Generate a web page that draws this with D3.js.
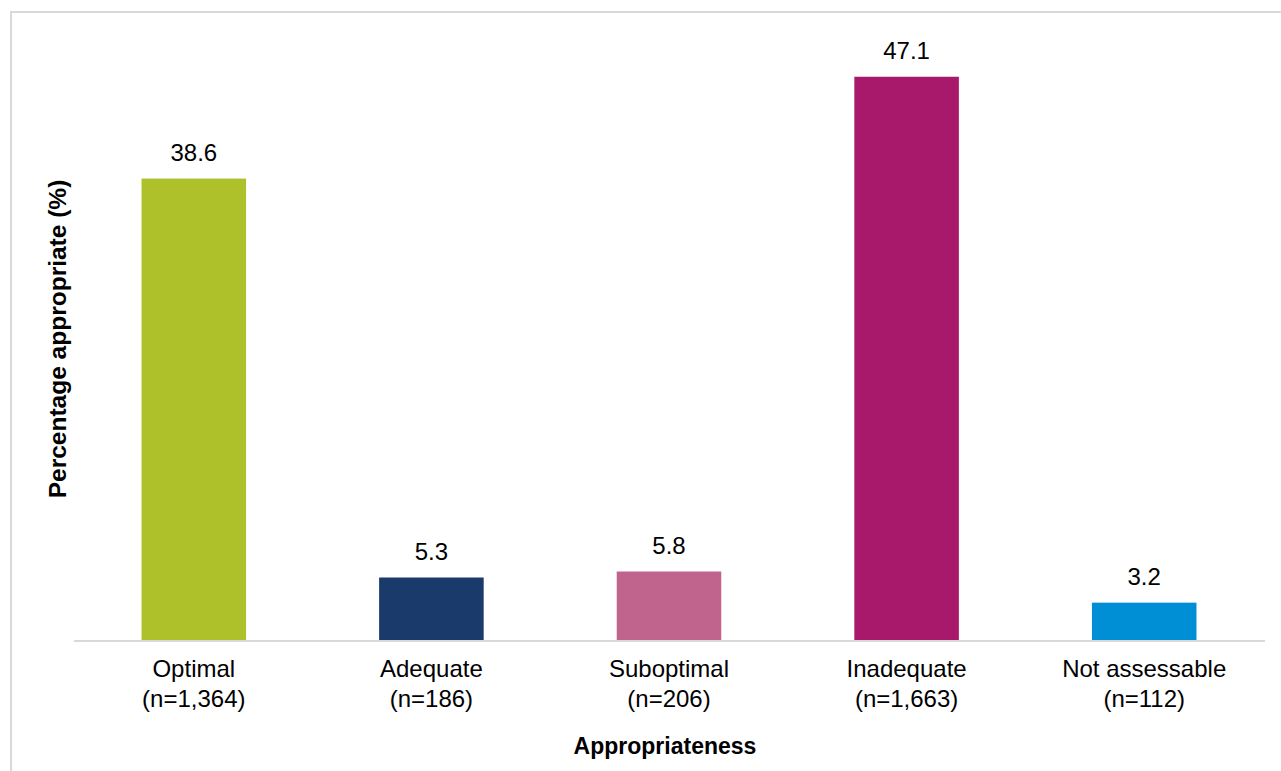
<!DOCTYPE html>
<html>
<head>
<meta charset="utf-8">
<script src="https://cdn.jsdelivr.net/npm/d3@7"></script>
<style>
  html, body { margin: 0; padding: 0; background: #fff; }
  svg { display: block; font-family: Arial, "Liberation Sans", sans-serif; }
</style>
</head>
<body>
<svg id="chart" width="1281" height="771"></svg>
<script>
const categories = ["Optimal", "Adequate", "Suboptimal", "Inadequate", "Not assessable"];
const counts = ["(n=1,364)", "(n=186)", "(n=206)", "(n=1,663)", "(n=112)"];
const values = [38.6, 5.3, 5.8, 47.1, 3.2];
const colors = ["#AFC12A", "#193A6B", "#C0648E", "#A9196B", "#008FD5"];
const yDomain = [0, 50];

const svg = d3.select("#chart");

// outer frame (left and top borders)
svg.append("path")
  .attr("d", "M11,771 L11,12 L1281,12")
  .attr("fill", "none")
  .attr("stroke", "#d9d9d9")
  .attr("stroke-width", 2);

const x = d3.scaleBand().domain(categories).range([75, 1263]).paddingInner(0.56).paddingOuter(0.28);
const y = d3.scaleLinear().domain(yDomain).range([641, 42]);

const data = categories.map((c, i) => ({ cat: c, n: counts[i], v: values[i], color: colors[i] }));

svg.selectAll("rect.bar").data(data).enter().append("rect")
  .attr("class", "bar")
  .attr("x", d => x(d.cat))
  .attr("width", x.bandwidth())
  .attr("y", d => y(d.v))
  .attr("height", d => y(0) - y(d.v))
  .attr("fill", d => d.color);

// baseline axis
const xAxis = svg.append("g").attr("transform", `translate(0,${y(0)})`)
  .call(d3.axisBottom(x).tickSize(0).tickFormat(""));
xAxis.select(".domain").attr("stroke", "#d9d9d9").attr("stroke-width", 2).attr("d", "M74,0H1265");

// category labels
const lab = svg.append("g");
data.forEach(d => {
  const cx = x(d.cat) + x.bandwidth() / 2;
  const t = lab.append("text")
    .attr("text-anchor", "middle")
    .attr("font-size", 24)
    .attr("fill", "#000");
  t.append("tspan").attr("x", cx).attr("y", 677).text(d.cat);
  t.append("tspan").attr("x", cx).attr("y", 707).text(d.n);
});

// value labels
svg.selectAll("text.val").data(data).enter().append("text")
  .attr("class", "val")
  .attr("x", d => x(d.cat) + x.bandwidth() / 2)
  .attr("y", d => y(d.v) - 18)
  .attr("text-anchor", "middle")
  .attr("font-size", 24)
  .attr("fill", "#000")
  .text(d => d.v.toFixed(1));

// axis titles
svg.append("text")
  .attr("x", 665)
  .attr("y", 754)
  .attr("text-anchor", "middle")
  .attr("font-size", 23)
  .attr("font-weight", "bold")
  .text("Appropriateness");

svg.append("text")
  .attr("transform", "translate(66,339) rotate(-90)")
  .attr("text-anchor", "middle")
  .attr("font-size", 24.5)
  .attr("font-weight", "bold")
  .text("Percentage appropriate (%)");
</script>
</body>
</html>
